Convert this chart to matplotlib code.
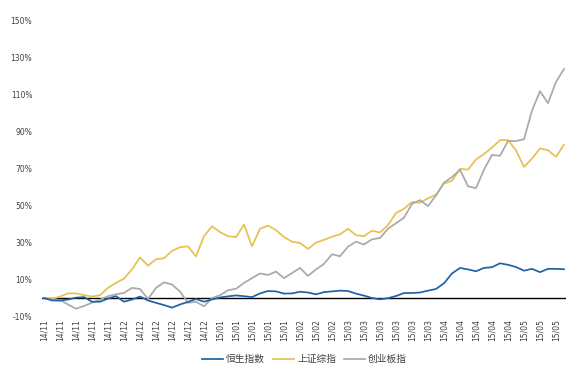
import matplotlib
matplotlib.use("Agg")
import matplotlib.pyplot as plt

# trading-day index (every 2nd trading day)
days = list(range(0, 131, 2))

hsi = [0, -1.3, -1.4, -0.8, 0.2, 0.5, -2.0, -2.0, -0.3, 1.0, -2.0, -0.8, 0.8, -1.3,
       -2.6, -3.8, -5.2, -3.5, -2.1, -0.5, -2.0, -0.8, 0.3, 0.9, 1.4, 1.0, 0.5, 2.5,
       3.8, 3.6, 2.4, 2.5, 3.4, 3.0, 2.0, 3.2, 3.6, 4.0, 3.8, 2.4, 1.3, 0.0, -0.7,
       -0.1, 1.1, 2.7, 2.7, 3.0, 4.0, 4.9, 8.0, 13.3, 16.3, 15.5, 14.5, 16.3, 16.7,
       18.8, 18.0, 16.8, 14.8, 15.8, 14.0, 15.8, 15.8, 15.6]

sse = [0, -0.5, 0.8, 2.5, 2.5, 1.6, 0.8, 1.5, 5.5, 8.2, 10.5, 15.5, 22, 17.5,
       21, 21.5, 25.5, 27.5, 28, 22.5, 33.5, 38.8, 35.7, 33.5, 33, 39.8, 28, 37.5,
       39.2, 36.8, 33, 30.5, 29.8, 26.6, 30, 31.5, 33.2, 34.5, 37.5, 34, 33.5, 36.5,
       35.5, 39.5, 46, 48.3, 52, 51.6, 54, 56, 62, 63.5, 70, 69.5, 75, 78, 81.5,
       85.5, 85.5, 80, 71, 75.5, 81, 80, 76.5, 83]

gem = [0, -0.8, -1.0, -3.5, -5.8, -4.3, -2.5, -0.9, 1.0, 2.0, 2.8, 5.5, 4.9, -0.5,
       5.5, 8.5, 7.3, 3.5, -2.6, -2.0, -4.5, 0.0, 1.5, 4.2, 5.0, 8.2, 10.8, 13.3,
       12.5, 14.3, 10.8, 13.5, 16.3, 12, 15.5, 18.5, 23.7, 22.6, 27.8, 30.5, 29,
       31.8, 32.5, 37.5, 40.5, 43.5, 51, 53, 49.8, 55.5, 62.5, 65.5, 69.5, 60.5,
       59.5, 69.5, 77.5, 77, 85, 85, 86, 101.5, 112, 105.5, 117, 124]

series_names = ["恒生指数", "上证综指", "创业板指"]

tick_days = list(range(0, 129, 4))
tick_labels = (["14/11"] * 5 + ["14/12"] * 6 + ["15/01"] * 5 + ["15/02"] * 3 +
               ["15/03"] * 6 + ["15/04"] * 5 + ["15/05"] * 3)

y_ticks = [-10, 10, 30, 50, 70, 90, 110, 130, 150]

plt.rcParams['font.family'] = ['Noto Sans CJK SC', 'DejaVu Sans']

fig = plt.figure(figsize=(5.8, 3.77), dpi=100)
ax = fig.add_axes([42 / 580, 1 - 316.5 / 377, (566 - 42) / 580, (316.5 - 21) / 377])

ax.axhline(0, color='black', lw=1.0, zorder=1)
ax.plot(days, hsi, color='#1F62A5', lw=1.25, label=series_names[0], zorder=3)
ax.plot(days, sse, color='#E6C152', lw=1.25, label=series_names[1], zorder=2)
ax.plot(days, gem, color='#A9A9A9', lw=1.25, label=series_names[2], zorder=2)

ax.set_xlim(-0.5, 130.5)
ax.set_ylim(-10, 150)
ax.set_yticks(y_ticks)
ax.set_yticklabels([f"{v}%" for v in y_ticks], fontsize=5.5, color='#404040',
                   family='DejaVu Sans')
ax.set_xticks(tick_days)
ax.set_xticklabels(tick_labels, rotation=90, fontsize=5.5, color='#404040',
                   family='DejaVu Sans')
ax.tick_params(axis='both', length=0)
ax.tick_params(axis='y', pad=7)
ax.tick_params(axis='x', pad=2)
for s in ax.spines.values():
    s.set_visible(False)

fig.legend(loc='center', bbox_to_anchor=(0.525, 1 - 359 / 377), ncol=3,
           frameon=False, fontsize=7, handlelength=2.2, handletextpad=0.3,
           columnspacing=0.8, labelcolor='#404040')

fig.savefig("out.png", dpi=100)
